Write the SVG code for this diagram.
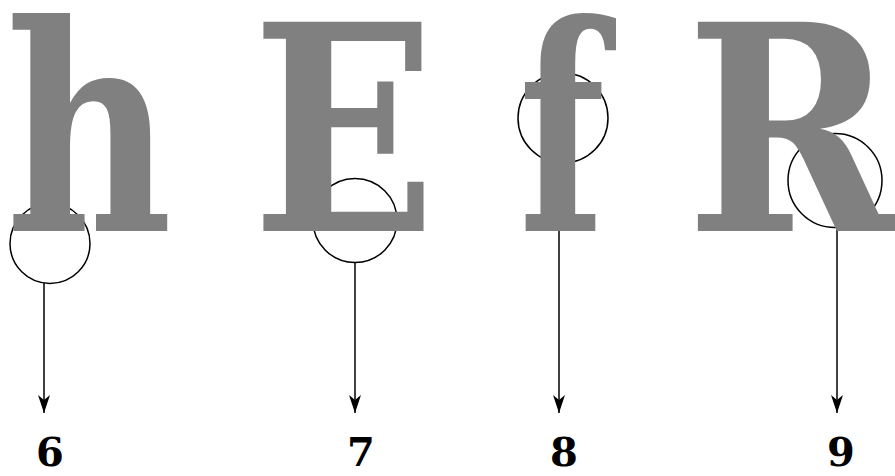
<svg xmlns="http://www.w3.org/2000/svg" width="895" height="476" viewBox="0 0 895 476">
<style>
.glyph{font-family:"DejaVu Serif","Liberation Serif",serif;font-weight:bold;font-size:287px;fill:#808080;text-anchor:middle}
.ring{fill:none;stroke:#000;stroke-width:1.5}
.num{font-family:"DejaVu Serif","Liberation Serif",serif;font-weight:bold;font-size:40px;fill:#000;text-anchor:middle}
.conn{stroke:#000;stroke-width:1.5;fill:none;marker-end:url(#ah)}
</style>
<defs>
<marker id="ah" viewBox="0 0 18 12" refX="18" refY="6" markerWidth="18" markerHeight="12" markerUnits="userSpaceOnUse" orient="auto">
<path d="M0,0 L18,6 L0,12 L5,6 Z" fill="#000"/>
</marker>
</defs>
<g id="connectors">
<path class="conn" d="M44,283 V413"/>
<path class="conn" d="M355,263 V413"/>
<path class="conn" d="M559,163 V413"/>
<path class="conn" d="M837,228 V413"/>
</g>
<g id="node-h">
<circle class="ring" cx="50" cy="243.5" r="40"/>
<text class="glyph" transform="translate(89,231) scale(0.8,1)">h</text>
<text class="num" x="50" y="466">6</text>
</g>
<g id="node-E">
<circle class="ring" cx="355" cy="220.5" r="42"/>
<text class="glyph" transform="translate(344,231) scale(0.84,1)">E</text>
<text class="num" x="361" y="466">7</text>
</g>
<g id="node-f">
<circle class="ring" cx="563" cy="118" r="45"/>
<text class="glyph" transform="translate(562,231) scale(0.7,1)">f</text>
<text class="num" x="564" y="466">8</text>
</g>
<g id="node-R">
<circle class="ring" cx="835" cy="180.5" r="47"/>
<text class="glyph" transform="translate(791,231) scale(0.88,1)">R</text>
<text class="num" x="841" y="466">9</text>
</g>
</svg>
